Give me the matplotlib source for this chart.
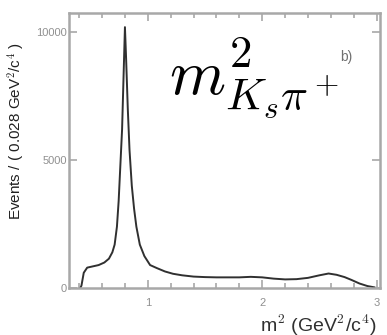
import numpy as np
import matplotlib.pyplot as plt
from matplotlib.ticker import MultipleLocator

plt.rcParams['font.family'] = ['Liberation Sans', 'DejaVu Sans']
plt.rcParams['mathtext.fontset'] = 'cm'

# m^2(Ks pi+) projection: fit curve read point by point
m2 = [0.41, 0.42, 0.44, 0.47, 0.52, 0.57, 0.62, 0.66, 0.69, 0.71, 0.73,
      0.745, 0.76, 0.775, 0.79, 0.80, 0.81, 0.825, 0.84, 0.86, 0.88, 0.90,
      0.93, 0.97, 1.02, 1.08, 1.15, 1.22, 1.30, 1.40, 1.50, 1.60, 1.70,
      1.80, 1.90, 2.00, 2.10, 2.20, 2.30, 2.40, 2.50, 2.58, 2.65, 2.72,
      2.78, 2.85, 2.92, 2.98]
events = [0, 100, 600, 800, 850, 900, 1000, 1150, 1400, 1700, 2400,
          3400, 4800, 6200, 8600, 10200, 9000, 7000, 5400, 4000, 3100, 2400,
          1700, 1250, 900, 780, 650, 560, 500, 450, 430, 420, 420,
          420, 440, 420, 370, 340, 350, 400, 500, 570, 520, 430,
          320, 180, 80, 30]

xticks = [1, 2, 3]
yticks = [0, 5000, 10000]

grey = '#a8a8a8'

fig = plt.figure(figsize=(3.87, 3.35), dpi=100)
ax = fig.add_axes([0.178, 0.140, 0.804, 0.821])

ax.plot(m2, events, color='#303030', lw=1.4)

ax.set_xlim(0.31, 3.03)
ax.set_ylim(0, 10750)
ax.set_xticks(xticks)
ax.set_xticklabels([str(t) for t in xticks])
ax.set_yticks(yticks)
ax.set_yticklabels([str(t) for t in yticks])
ax.xaxis.set_minor_locator(MultipleLocator(0.2))

for s in ax.spines.values():
    s.set_color(grey)
    s.set_linewidth(1.8)
ax.tick_params(which='both', direction='in', top=True, right=True,
               color=grey, width=1.2, labelsize=8, labelcolor='#909090')
ax.tick_params(which='major', length=6, pad=1.5)
ax.tick_params(axis='x', which='major', pad=7)
ax.tick_params(which='minor', length=3.5)

ax.set_ylabel(r'Events / ( 0.028 GeV$^2$/c$^4$ )', fontsize=11, color='#202020')
ax.yaxis.set_label_coords(-0.135, 0.57)

# axis title runs off the right edge of the canvas
fig.text(260 / 387, 1 - 332 / 335, r'm$^2$ (GeV$^2$/c$^4$)', fontsize=14,
         color='#303030', ha='left', va='baseline')

ax.text(0.595, 0.765, r'$m^2_{K_s\pi^+}$', transform=ax.transAxes,
        fontsize=46, ha='center', va='center')
ax.text(0.89, 0.84, 'b)', transform=ax.transAxes, fontsize=10,
        color='#707070', ha='center', va='center')

fig.savefig('out.png', dpi=100)
